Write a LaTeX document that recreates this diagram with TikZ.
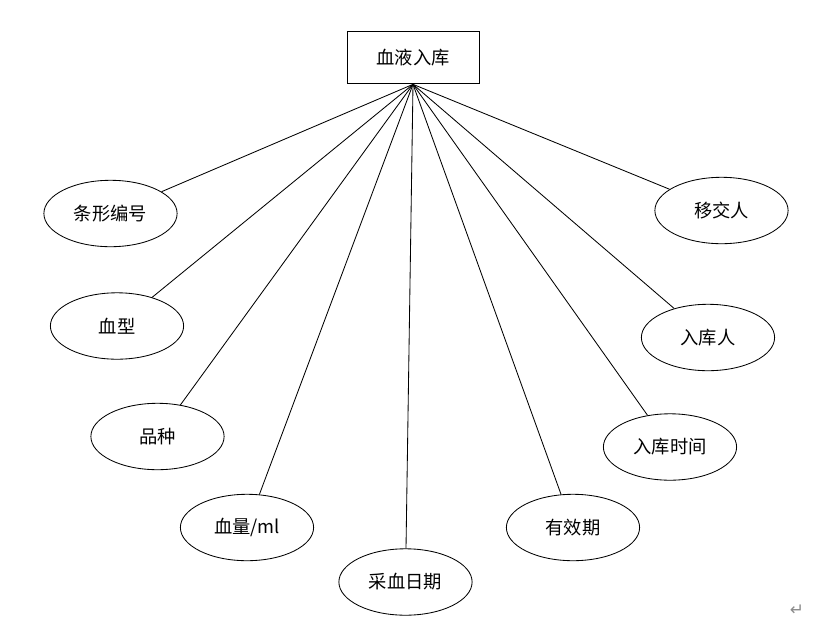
\documentclass[tikz,border=0pt]{standalone}
\usepackage{fontspec}
\newfontfamily\cjk{Noto Sans CJK SC}
\newfontfamily\symfont{DejaVu Sans}
\usetikzlibrary{shapes.geometric}

\begin{document}
\begin{tikzpicture}[
  x=0.025cm, y=-0.025cm,
  font=\cjk\fontsize{13}{15}\selectfont,
  entity/.style={draw=black, line width=0.6pt, minimum width=3.3cm, minimum height=1.32cm, inner sep=0pt},
  attr/.style={draw=black, line width=0.6pt, ellipse, minimum width=3.33cm, minimum height=1.66cm, inner sep=0pt},
  edge/.style={draw=black, line width=0.6pt}
]
\useasboundingbox (0,0) rectangle (831,633);
\node[entity] (store) at (413,57.5) {血液入库};
\node[attr] (code) at (110.5,213.5) {条形编号};
\node[attr] (type) at (117,326) {血型};
\node[attr] (kind) at (157.5,436.5) {品种};
\node[attr] (vol) at (247,527.5) {血量/ml};
\node[attr] (date) at (405.5,582) {采血日期};
\node[attr] (expiry) at (573,527.5) {有效期};
\node[attr] (intime) at (670,447) {入库时间};
\node[attr] (inby) at (708,337.5) {入库人};
\node[attr] (from) at (721.5,210.5) {移交人};
\foreach \a in {code,type,kind,vol,date,expiry,intime,inby,from}
  \draw[edge] (store.south) -- (\a);
\node[text=black!45, font=\symfont\large] (mark) at (797,610) {↵};
\end{tikzpicture}
\end{document}
